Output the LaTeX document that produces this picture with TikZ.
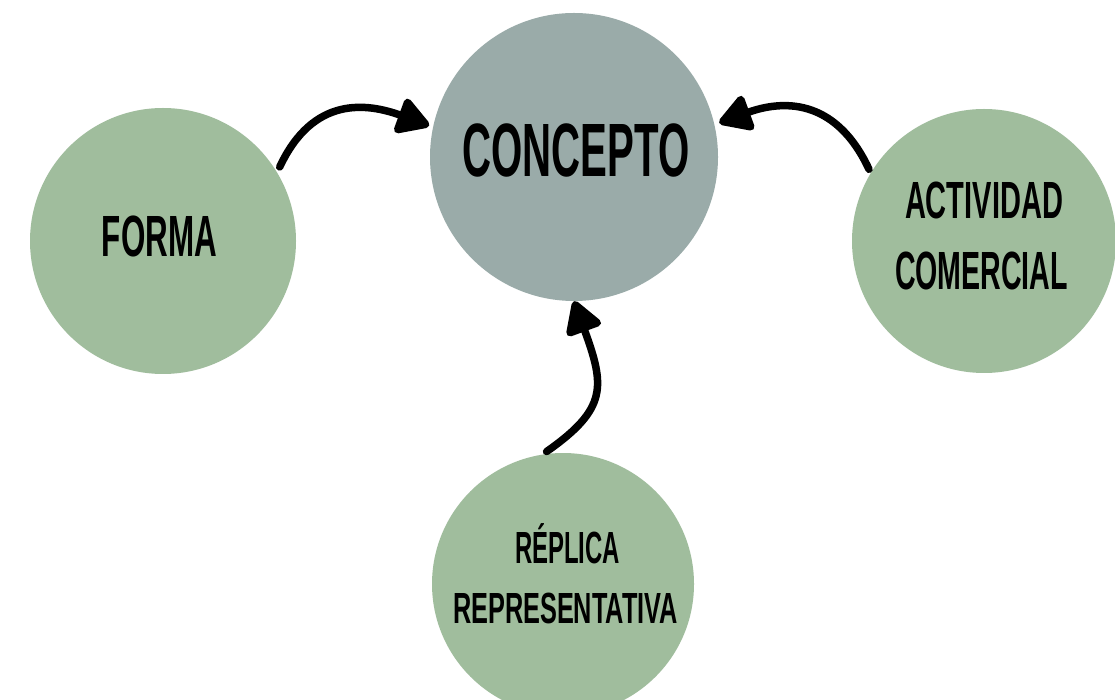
\documentclass[tikz,border=0pt]{standalone}
\usepackage{fontspec}
\setmainfont{Liberation Sans}
\usetikzlibrary{arrows.meta}
\definecolor{conceptgray}{RGB}{154,171,169}
\definecolor{sagegreen}{RGB}{160,189,157}
\newcommand{\fitword}[3]{\resizebox{#1}{#2}{\smash{#3}\vphantom{H}}}
\tikzset{
  bubble/.style={circle, draw=none, inner sep=0pt},
  maincircle/.style={bubble, fill=conceptgray, minimum size=288pt},
  sidecircle/.style={bubble, fill=sagegreen, minimum size=266pt},
  word/.style={anchor=base, inner sep=0pt, font=\bfseries, text=black},
  flow/.style={line width=7.5pt, line cap=round, black,
    -{Triangle[length=36pt,width=40pt,round]}}
}
\begin{document}
\begin{tikzpicture}[x=1pt,y=1pt]
\useasboundingbox (0,0) rectangle (1115,699);
\clip (0,0) rectangle (1115,699);
\fill[white] (0,0) rectangle (1115,699);
% circles
\node[maincircle] (concepto) at (574,542) {};
\node[sidecircle] (forma) at (163,458) {};
\node[sidecircle, minimum size=264pt] (actividad) at (984,458) {};
\node[sidecircle, minimum size=262pt] (replica) at (563,115) {};
% texts
\node[word] (tconcepto) at (576,522) {\fitword{227pt}{52pt}{CONCEPTO}};
\node[word] (tforma) at (159.5,442) {\fitword{115pt}{40pt}{FORMA}};
\node[word] (tactividad) at (984,480) {\fitword{158pt}{36pt}{ACTIVIDAD}};
\node[word] (tcomercial) at (981.5,409) {\fitword{173pt}{37pt}{COMERCIAL}};
\node[word] (treplica) at (567.5,136) {\fitword{105pt}{31pt}{RÉPLICA}};
\node[word] (trepresentativa) at (565.5,76) {\fitword{225pt}{30pt}{REPRESENTATIVA}};
% arrows
\draw[flow, shorten <=6pt, shorten >=4pt] (forma.31) .. controls +(65:85) and +(160:70) .. (concepto.168);
\draw[flow, shorten <=4pt, shorten >=5pt] (actividad.149.5) .. controls +(115:85) and +(20:70) .. (concepto.13);
\draw[flow, shorten <=5pt, shorten >=0pt] (replica.99.7) .. controls +(35:80) and +(290:90) .. (concepto.270);
\end{tikzpicture}
\end{document}
